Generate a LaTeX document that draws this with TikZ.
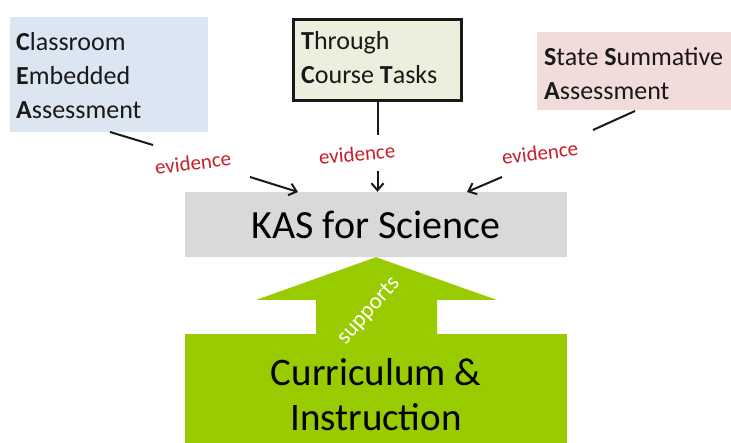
\documentclass[tikz,border=0pt]{standalone}
\usepackage{fontspec}
\setmainfont{Carlito}
\usetikzlibrary{arrows.meta}
\definecolor{ceablue}{RGB}{220,230,242}
\definecolor{tctgreen}{RGB}{235,240,222}
\definecolor{ssapink}{RGB}{242,220,219}
\definecolor{kasgray}{RGB}{217,217,217}
\definecolor{lime}{RGB}{153,204,0}
\definecolor{evred}{RGB}{200,30,45}
\definecolor{darkline}{RGB}{25,25,25}
\tikzset{
  srcbox/.style={anchor=north west, inner sep=0pt, font=\fontsize{26}{34}\selectfont, align=left, text=darkline},
  evlabel/.style={font=\fontsize{21}{24}\selectfont, text=evred, inner sep=1pt},
  link/.style={line width=2pt, draw=darkline},
  evarrow/.style={line width=2pt, draw=darkline, -{Straight Barb[length=7pt,width=12pt,line width=2pt]}},
}
\begin{document}
\begin{tikzpicture}[x=1pt,y=-1pt]
\useasboundingbox (0,0) rectangle (731,443);
\begin{scope}
\clip (0,0) rectangle (731,443);
% source boxes
\fill[ceablue] (10,17) rectangle (208,132);
\node[srcbox] (cea) at (16,32) {\textbf{C}lassroom\\\textbf{E}mbedded\\\textbf{A}ssessment};
\coordinate (ceaout) at (110,132);
\node[draw=darkline, line width=3pt, fill=tctgreen, minimum width=168, minimum height=81, anchor=north west] (tctbox) at (292,18) {};
\node[srcbox] (tct) at (301,31) {\textbf{T}hrough\\\textbf{C}ourse \textbf{T}asks};
\fill[ssapink] (537,32) rectangle (731,110);
\node[srcbox] (ssa) at (544,47) {\textbf{S}tate \textbf{S}ummative\\\textbf{A}ssessment};
\coordinate (ssaout) at (635,111);
% KAS
\node[fill=kasgray, minimum width=382, minimum height=65, inner sep=0pt, font=\fontsize{40}{48}\selectfont] (kas) at (376,224.5) {KAS for Science};
% Curriculum
\node[fill=lime, minimum width=382, minimum height=120, inner sep=0pt, anchor=north, font=\fontsize{39}{45}\selectfont, align=center] (ci) at (376,334) {Curriculum \&\\Instruction};
\fill[lime] (316,339) -- (316,300) -- (256,300) -- (kas.south) -- (497,300) -- (437,300) -- (437,339) -- cycle;
\fill[lime] (185,338) rectangle (567,350);
\node[rotate=48, text=white, font=\fontsize{23}{26}\selectfont, inner sep=0pt] (sup) at (369,311) {supports};
% evidence labels
\node[evlabel, rotate=7] (ev1) at (193,163) {evidence};
\node[evlabel, rotate=5] (ev2) at (357,154) {evidence};
\node[evlabel, rotate=7] (ev3) at (540,153) {evidence};
% connectors
\coordinate (l1end) at (153,145);
\coordinate (l3end) at (593,130);
\draw[link] (ceaout) -- (l1end);
\draw[link] (tctbox.south) -- ++(0,33) coordinate (l2end);
\draw[link] (ssaout) -- (l3end);
\coordinate (a1s) at (250,177);
\coordinate (a1e) at (298,192);
\coordinate (a3s) at (502,177);
\coordinate (a3e) at (467,192);
\draw[evarrow] (a1s) -- (a1e);
\draw[evarrow] (tctbox.south |- 0,171) coordinate (a2s) -- (a2s |- kas.north);
\draw[evarrow] (a3s) -- (a3e);
\end{scope}
\end{tikzpicture}
\end{document}
